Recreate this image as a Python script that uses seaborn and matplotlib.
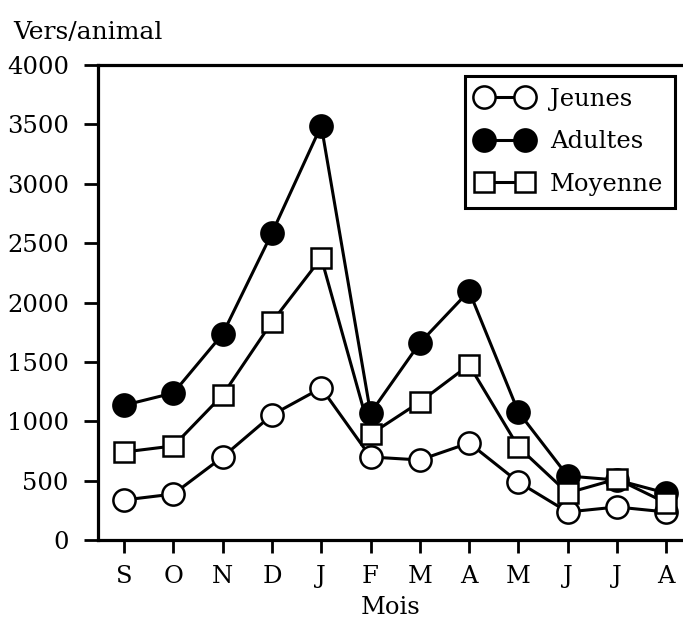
import matplotlib
matplotlib.use("Agg")
import matplotlib.pyplot as plt
import seaborn as sns
import pandas as pd

months = ["S", "O", "N", "D", "J", "F", "M", "A", "M", "J", "J", "A"]
jeunes = [337, 387, 699, 1053, 1280, 699, 674, 817, 488, 236, 278, 236]
adultes = [1135, 1238, 1735, 2585, 3490, 1069, 1659, 2097, 1078, 539, 505, 395]
moyenne = [741, 792, 1221, 1836, 2375, 890, 1162, 1474, 783, 396, 514, 312]
y_ticks = [0, 500, 1000, 1500, 2000, 2500, 3000, 3500, 4000]

sns.set_theme(style="white")
plt.rcParams["font.family"] = ["DejaVu Serif"]
plt.rcParams["text.color"] = "black"
plt.rcParams["axes.labelcolor"] = "black"

FS = 17.5

fig = plt.figure(figsize=(6.83, 6.28), dpi=100)
ax = fig.add_axes([98 / 683, 1 - 540 / 628, 1 - 98 / 683, (540 - 65) / 628])

idx = list(range(len(months)))
series = [
    ("Jeunes", jeunes, "o", "white", 16),
    ("Adultes", adultes, "o", "black", 16),
    ("Moyenne", moyenne, "s", "white", 14.5),
]
for z, (name, vals, mk, fc, ms) in enumerate(series):
    df = pd.DataFrame({"mois": idx, "valeur": vals})
    sns.lineplot(data=df, x="mois", y="valeur", ax=ax, color="black",
                 linewidth=2.2, marker=mk, markersize=ms,
                 markerfacecolor=fc, markeredgecolor="black",
                 markeredgewidth=1.8, label=name, zorder=3 + z)

ax.set_xlim(-0.53, 11.34)
ax.set_ylim(0, 4000)
ax.set_xticks(idx)
ax.set_xticklabels(months)
ax.set_yticks(y_ticks)
ax.set_yticklabels([str(v) for v in y_ticks])
ax.set_xlabel("Mois", fontsize=FS, labelpad=6, color="black")
ax.set_ylabel("")
ax.text(-0.145, 1.045, "Vers/animal", transform=ax.transAxes,
        fontsize=FS + 0.5, ha="left", va="bottom", color="black")

for side in ["left", "bottom", "top"]:
    ax.spines[side].set_color("black")
    ax.spines[side].set_linewidth(2.3)
ax.spines["right"].set_visible(False)
ax.tick_params(axis="x", which="major", direction="out", length=9,
               width=2.0, color="black", labelsize=FS, labelcolor="black",
               pad=9, bottom=True)
ax.tick_params(axis="y", which="major", direction="out", length=10,
               width=2.0, color="black", labelsize=FS, labelcolor="black",
               pad=11, left=True)
ax.grid(False)

leg = ax.legend(loc="upper right", bbox_to_anchor=(0.995, 0.988),
                fontsize=FS, frameon=True, fancybox=False, numpoints=2,
                handlelength=2.3, borderpad=0.5, labelspacing=0.8,
                handletextpad=0.7, borderaxespad=0.2)
leg.get_frame().set_edgecolor("black")
leg.get_frame().set_linewidth(2.2)
leg.get_frame().set_facecolor("white")
leg.get_frame().set_alpha(1)

fig.savefig("out.png", dpi=100, facecolor="white")
